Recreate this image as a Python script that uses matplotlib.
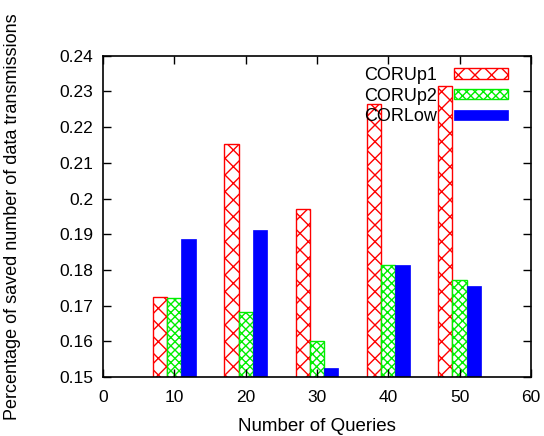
import matplotlib
matplotlib.use("Agg")
import matplotlib.pyplot as plt
import numpy as np

plt.rcParams['font.family'] = ['Liberation Sans', 'DejaVu Sans']
plt.rcParams['hatch.linewidth'] = 1.0

queries = [10, 20, 30, 40, 50]
cor_up1 = [0.1725, 0.2152, 0.1970, 0.2266, 0.2314]
cor_up2 = [0.1722, 0.1683, 0.1602, 0.1813, 0.1772]
cor_low = [0.1886, 0.1912, 0.1524, 0.1814, 0.1756]
series_names = ["CORUp1", "CORUp2", "CORLow"]
y_tick_labels = ["0.15", "0.16", "0.17", "0.18", "0.19", "0.2",
                 "0.21", "0.22", "0.23", "0.24"]

fig = plt.figure(figsize=(5.44, 4.36), dpi=100)
ax = fig.add_axes([0.1893, 0.1353, 0.7867, 0.7369])

x = np.array(queries, dtype=float)
w = 2.0
ax.bar(x - w, cor_up1, width=w, facecolor='white', edgecolor='#ff0000',
       hatch='xx', linewidth=1.0, label=series_names[0])
ax.bar(x, cor_up2, width=w, facecolor='white', edgecolor='#00ee00',
       hatch='xxxx', linewidth=1.0, label=series_names[1])
ax.bar(x + w, cor_low, width=w, facecolor='#0000ff', edgecolor='#0000ff',
       linewidth=0.5, label=series_names[2])

ax.set_xlim(0, 60)
ax.set_ylim(0.15, 0.24)
ax.set_xticks(range(0, 61, 10))
ax.set_yticks(np.linspace(0.15, 0.24, 10))
ax.set_yticklabels(y_tick_labels)
ax.tick_params(direction='in', length=6, width=1, top=True, right=True,
               labelsize=12.5)
ax.tick_params(axis='x', pad=9)
ax.tick_params(axis='y', pad=7)
for s in ax.spines.values():
    s.set_linewidth(1.2)

ax.set_xlabel("Number of Queries", fontsize=13.5, va='top')
ax.xaxis.set_label_coords(0.5, -0.127)
ax.set_ylabel("Percentage of saved number of data transmissions", fontsize=13)
ax.yaxis.set_label_coords(-0.1916, 0.5)

leg = ax.legend(loc='upper right', frameon=False, markerfirst=False,
                fontsize=13, handlelength=3.0, handleheight=0.5,
                labelspacing=0.2, handletextpad=0.95,
                borderpad=0, borderaxespad=0,
                bbox_to_anchor=(0.9463, 0.965))

fig.savefig("out.png", dpi=100)
